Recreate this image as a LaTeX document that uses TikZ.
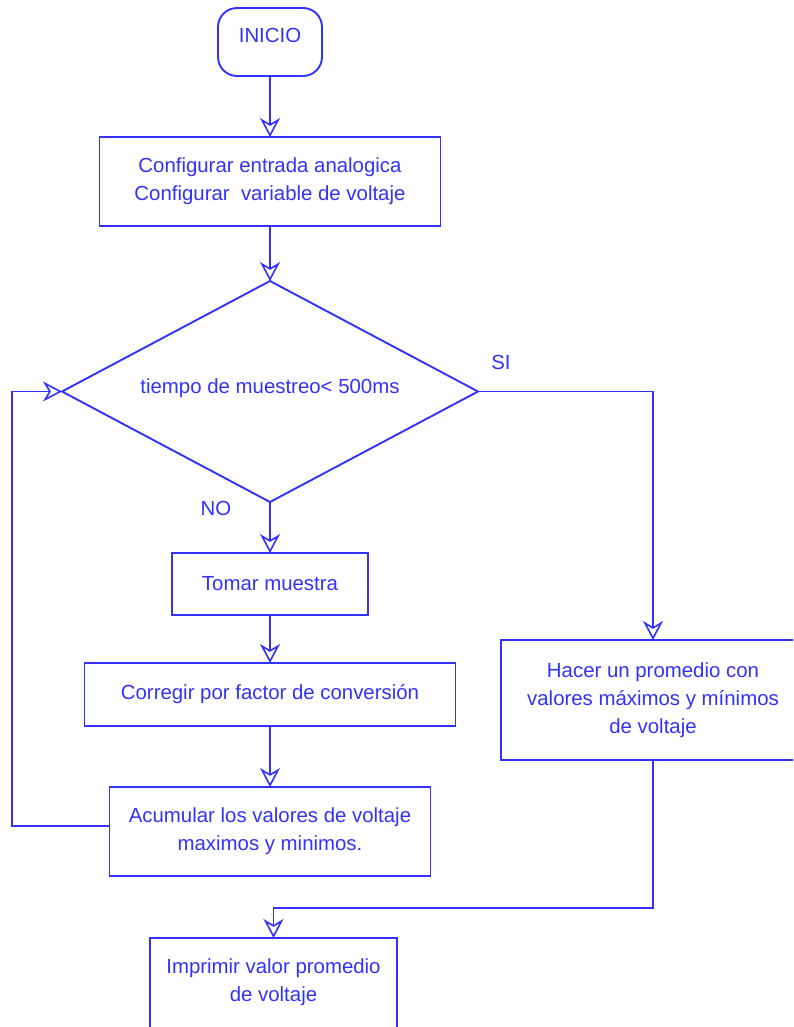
\documentclass[tikz,border=0pt]{standalone}
\usepackage{fontspec}
\setmainfont{Liberation Sans}
\usetikzlibrary{arrows.meta,shapes.geometric}
\definecolor{flow}{RGB}{50,50,250}
\begin{document}
\begin{tikzpicture}[x=1pt,y=-1pt,
  every node/.style={text=flow, font=\fontsize{20.4}{28}\selectfont},
  box/.style={draw=flow, line width=1.9pt, align=center, inner sep=0pt, outer sep=0pt},
  arr/.style={draw=flow, line width=1.9pt, -{Stealth[open, length=19pt, width=20pt, inset=6pt, line width=1.6pt]}},
  link/.style={draw=flow, line width=1.9pt}]
\useasboundingbox (0,0) rectangle (793,1027);
\clip (0,0) rectangle (793,1027);

% terminal
\node[box, rounded corners=19pt, minimum width=104pt, minimum height=68pt,
      text height=14pt, text depth=12pt] (inicio) at (270,42) {INICIO};

% process boxes
\node[box, minimum width=341pt, minimum height=89pt] (config) at (270,181.5)
  {Configurar entrada analogica\\Configurar\ \ variable de voltaje};

\node[box, shape=diamond, minimum width=416pt, minimum height=221pt] (cond) at (270,391.5) {};
\node (condtext) at (270,388) {tiempo de muestreo< 500ms};

\node[box, minimum width=196pt, minimum height=62pt] (tomar) at (270,584) {Tomar muestra};
\node[box, minimum width=371pt, minimum height=63pt] (corregir) at (270,694.5) {Corregir por factor de conversión};
\node[box, minimum width=321pt, minimum height=89pt] (acum) at (270,831.5)
  {Acumular los valores de voltaje\\maximos y minimos.};

\node[box, minimum width=304pt, minimum height=120pt] (prom) at (653,700)
  {Hacer un promedio con\\valores máximos y mínimos\\de voltaje};

\node[box, minimum width=247pt, minimum height=104pt, anchor=north] (impr) at (273.5,938) {};
\node[align=center] (imprtext) at (273.5,982) {Imprimir valor promedio\\de voltaje};

% branch labels
\node (si) at (501,362) {SI};
\node (no) at (216,508) {NO};

% connectors
\draw[arr] (inicio.south) -- (config.north);
\draw[arr] (config.south) -- (cond.north);
\draw[arr] (cond.south) -- (tomar.north);
\draw[arr] (tomar.south) -- (corregir.north);
\draw[arr] (corregir.south) -- (acum.north);
\coordinate (loop) at (12,826);
\draw[arr] (acum.west |- loop) -- (loop) |- (cond.west);
\draw[arr] (cond.east) -| (prom.north);
\coordinate (merge) at (653,908);
\draw[arr] (prom.south) -- (merge) -| (impr.north);
\end{tikzpicture}
\end{document}
